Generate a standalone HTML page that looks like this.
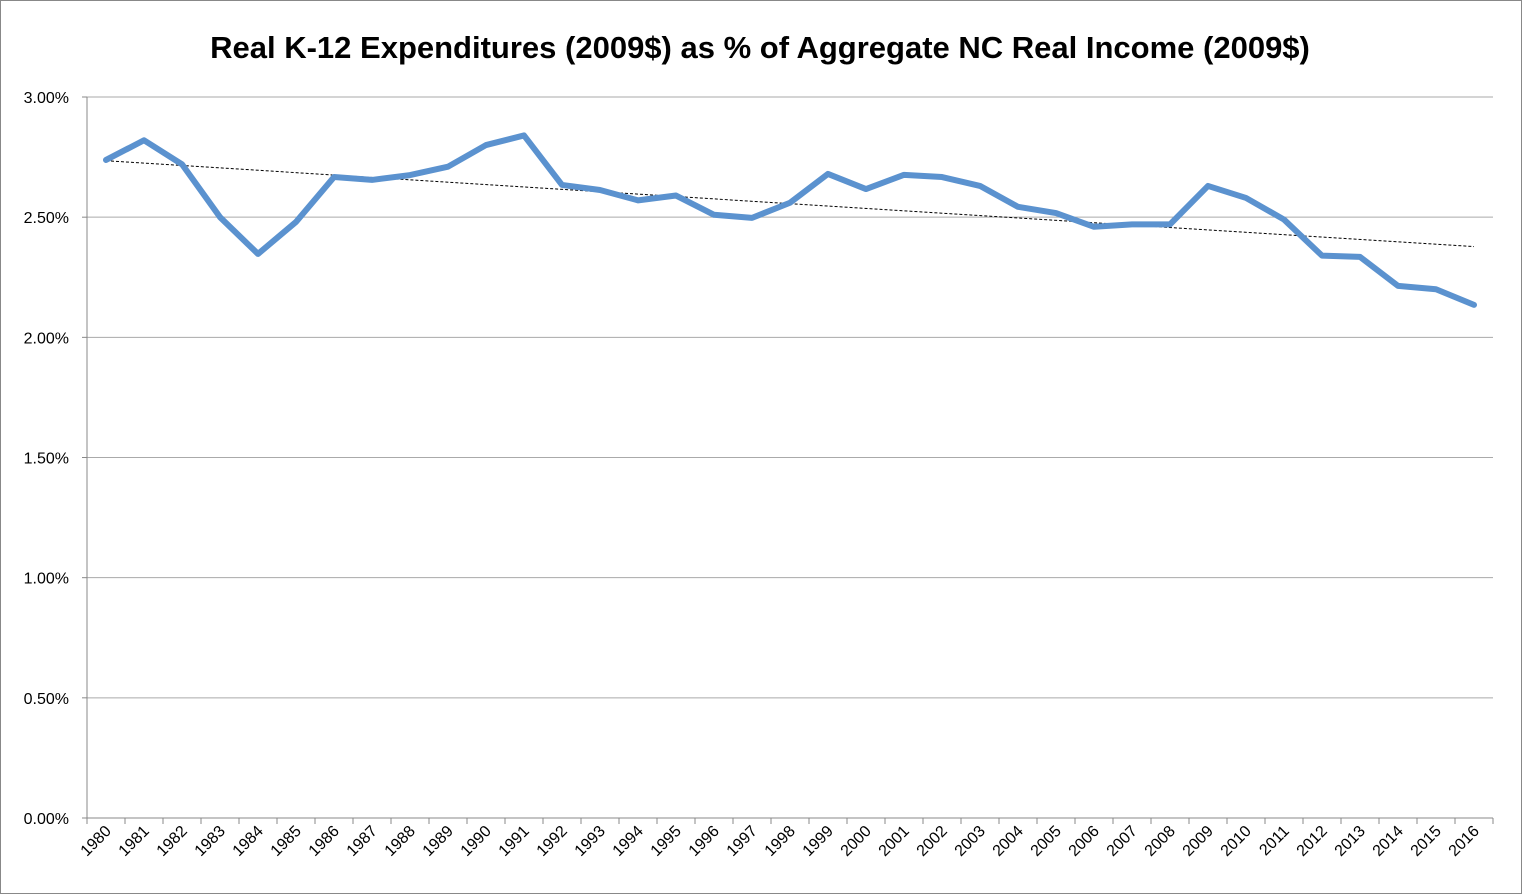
<!DOCTYPE html>
<html><head><meta charset="utf-8">
<style>
html,body{margin:0;padding:0;background:#fff;}
svg{display:block;font-family:"Liberation Sans",sans-serif;}
</style></head>
<body>
<svg id="chart" width="1522" height="894">
<rect x="0.5" y="0.5" width="1521" height="893" fill="#fff" stroke="#888"/>
<text x="760" y="58" text-anchor="middle" font-size="31" font-weight="bold" fill="#000">Real K-12 Expenditures (2009$) as % of Aggregate NC Real Income (2009$)</text>
<g id="grid"></g><g id="axes"></g><g id="marks"></g>
</svg>
<script>
const years=["1980","1981","1982","1983","1984","1985","1986","1987","1988","1989","1990","1991","1992","1993","1994","1995","1996","1997","1998","1999","2000","2001","2002","2003","2004","2005","2006","2007","2008","2009","2010","2011","2012","2013","2014","2015","2016"];
const values=[2.738,2.82,2.72,2.50,2.347,2.48,2.667,2.655,2.675,2.71,2.80,2.84,2.634,2.613,2.57,2.59,2.51,2.497,2.56,2.68,2.617,2.676,2.667,2.63,2.543,2.517,2.46,2.47,2.47,2.63,2.58,2.49,2.34,2.335,2.214,2.20,2.135];
const yTicks=[0,0.5,1,1.5,2,2.5,3];
const yTickLabels=["0.00%","0.50%","1.00%","1.50%","2.00%","2.50%","3.00%"];

const NS="http://www.w3.org/2000/svg";
const L=87,R=1493,T=97,B=818;
const band=(R-L)/years.length;
const x=i=>L+band*(i+0.5);
const y=v=>B-(v/3)*(B-T);
function mk(tag,attrs,parent){const e=document.createElementNS(NS,tag);for(const k in attrs)e.setAttribute(k,attrs[k]);parent.appendChild(e);return e;}
const grid=document.getElementById('grid'),axes=document.getElementById('axes'),marks=document.getElementById('marks');
yTicks.forEach((t,i)=>{
  if(t>0){const g=mk('line',{x1:L,x2:R,y1:y(t),y2:y(t),stroke:'#aaa','stroke-width':1},grid);
  
  }
  const tk=mk('line',{x1:L-5,x2:L,y1:y(t),y2:y(t),stroke:'#888'},axes);
  
  
  const tx=mk('text',{x:L-18,y:y(t)+6,'text-anchor':'end','font-size':16,fill:'#000'},axes);
  tx.textContent=yTickLabels[i];
  
  
});
const ya=mk('line',{x1:L,x2:L,y1:T,y2:B,stroke:'#888'},axes);


const xa=mk('line',{x1:L,x2:R,y1:B,y2:B,stroke:'#888'},axes);


for(let i=0;i<=years.length;i++){
  const tk=mk('line',{x1:L+band*i,x2:L+band*i,y1:B,y2:B+6,stroke:'#888'},axes);
  
  
}
years.forEach((yr,i)=>{
  const px=x(i)+6,py=B+14;
  const t=mk('text',{x:px,y:py,'text-anchor':'end','font-size':16,fill:'#000',transform:`rotate(-45 ${px} ${py})`},axes);
  t.textContent=yr;
  
  
});
// trendline via least squares
const n=values.length;let sx=0,sy=0,sxy=0,sxx=0;
values.forEach((v,i)=>{sx+=i;sy+=v;sxy+=i*v;sxx+=i*i;});
const slope=(n*sxy-sx*sy)/(n*sxx-sx*sx),icpt=(sy-slope*sx)/n;
const tr=mk('line',{x1:x(0),y1:y(icpt),x2:x(n-1),y2:y(icpt+slope*(n-1)),stroke:'#000','stroke-width':1,'stroke-dasharray':'3,2'},marks);


const pl=mk('polyline',{points:values.map((v,i)=>x(i)+','+y(v)).join(' '),fill:'none',stroke:'#5b92cf','stroke-width':6,'stroke-linejoin':'round','stroke-linecap':'round'},marks);


</script>
</body></html>
